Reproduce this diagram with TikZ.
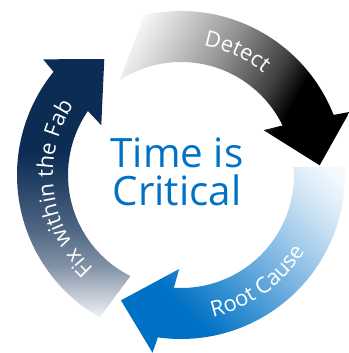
\documentclass[tikz,border=0pt]{standalone}
\usepackage{fontspec}
\setmainfont{Open Sans}
\usetikzlibrary{decorations.text}

\definecolor{rootblue}{RGB}{0,113,197}
\definecolor{fixnavy}{RGB}{12,44,84}

\pgfdeclarehorizontalshading{detectshade}{100bp}{color(0bp)=(white); color(21bp)=(white); color(28bp)=(black!12); color(44bp)=(black!42); color(58bp)=(black!75); color(65bp)=(black); color(100bp)=(black)}
\pgfdeclarehorizontalshading{rootshade}{100bp}{color(0bp)=(rootblue); color(33bp)=(rootblue); color(45bp)=(rootblue!75); color(57bp)=(rootblue!50); color(71bp)=(rootblue!22); color(82bp)=(rootblue!4); color(100bp)=(white)}
\pgfdeclarehorizontalshading{fixshade}{100bp}{color(0bp)=(fixnavy); color(43bp)=(fixnavy); color(50bp)=(fixnavy!88); color(58bp)=(fixnavy!72); color(65bp)=(fixnavy!52); color(69bp)=(fixnavy!33); color(75bp)=(fixnavy!6); color(100bp)=(white)}

\newcommand{\ringfont}{\fontsize{12.5}{15}\selectfont}
\newcommand{\hubfont}{\fontsize{23}{21.6}\selectfont}

\begin{document}
\begin{tikzpicture}[x=0.02cm, y=0.02cm]
    \def\ro{164};
    \def\ri{113};
    \def\rw{180};
    \def\rv{94};
    \def\rt{139};

    \def\ta{4};
    \def\tb{244.4};
    \def\tc{123.5};

    \useasboundingbox (-181, -178) rectangle (168, 175);

% detect arrow

    \shade[shading=detectshade, shading angle=-30] (103:\ro) arc[start angle=103, end angle=\ta+17.5, radius=\ro] -- ({\ta+16.5}:\rw) -- (\ta:\rt) -- ({\ta+24.5}:\rv) -- ({\ta+22}:\ri) arc[start angle=\ta+22, end angle=122.7, radius=\ri] -- cycle;

% root cause arrow

    \shade[shading=rootshade, shading angle=45] (2.8:\ro) arc[start angle=2.8, end angle=\tb+17.5-360, radius=\ro] -- ({\tb+16.5}:\rw) -- (\tb:\rt) -- ({\tb+24.5}:\rv) -- ({\tb+22}:\ri) arc[start angle=\tb+22-360, end angle=4.1, radius=\ri] -- cycle;

% fix arrow

    \shade[shading=fixshade, shading angle=-90] (240.3:\ro) arc[start angle=240.3, end angle=\tc+17.5, radius=\ro] -- ({\tc+16.5}:\rw) -- (\tc:\rt) -- ({\tc+24.5}:\rv) -- ({\tc+22}:\ri) arc[start angle=\tc+22, end angle=243.4, radius=\ri] -- cycle;

% labels

    \path[decorate, decoration={text along path, text align=center, text color=white, text={|\ringfont|Detect}}] (96:131) arc[start angle=96, end angle=35, radius=131];
    \path[decorate, decoration={text along path, text align=center, text color=white, text={|\ringfont|Root Cause}}] (275:145.5) arc[start angle=275, end angle=336, radius=145.5];
    \path[decorate, decoration={text along path, text align=center, text color=white, text={|\ringfont|Fix within the Fab}}] (228:128) arc[start angle=228, end angle=146, radius=128];

    \node[text=rootblue, align=center, font=\hubfont] (hub) at (-4, 3) {Time is\\Critical};

\end{tikzpicture}
\end{document}
